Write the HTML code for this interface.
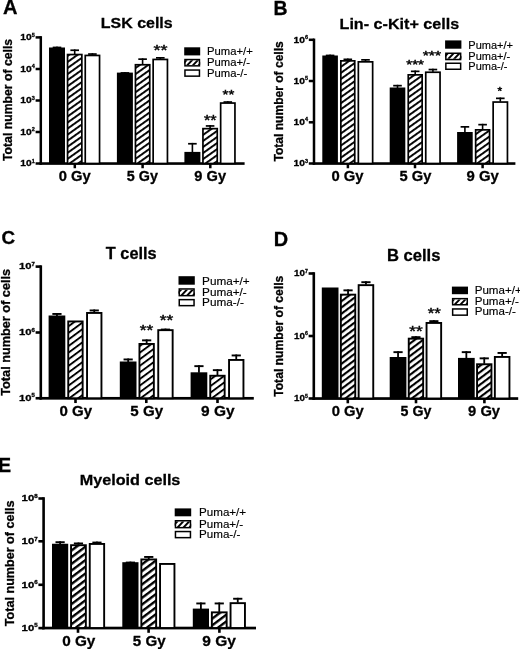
<!DOCTYPE html>
<html><head><meta charset="utf-8"><title>Figure</title>
<style>
html,body{margin:0;padding:0;background:#fff;}
svg{display:block;filter:blur(0.4px);}
text{font-family:"Liberation Sans",sans-serif;fill:#000;}
text[font-weight=bold]{stroke:#000;stroke-width:0.3px;}
</style></head>
<body>
<svg width="520" height="649" viewBox="0 0 520 649">
<defs>
<pattern id="h" patternUnits="userSpaceOnUse" width="10" height="4.93" patternTransform="rotate(-35.5)">
<rect x="0" y="0" width="10" height="4.93" fill="#fff"/>
<rect x="0" y="0" width="10" height="1.9" fill="#000"/>
</pattern>
<pattern id="hC" patternUnits="userSpaceOnUse" width="10" height="5.3" patternTransform="rotate(-36.5)">
<rect x="0" y="0" width="10" height="5.3" fill="#fff"/>
<rect x="0" y="0" width="10" height="1.9" fill="#000"/>
</pattern>
<pattern id="hD" patternUnits="userSpaceOnUse" width="10" height="5.0" patternTransform="rotate(-37)">
<rect x="0" y="0" width="10" height="5.0" fill="#fff"/>
<rect x="0" y="0" width="10" height="2.15" fill="#000"/>
</pattern>
<pattern id="hE" patternUnits="userSpaceOnUse" width="10" height="5.35" patternTransform="rotate(-37)">
<rect x="0" y="0" width="10" height="5.35" fill="#fff"/>
<rect x="0" y="0" width="10" height="2.35" fill="#000"/>
</pattern>
<pattern id="hl" patternUnits="userSpaceOnUse" width="10" height="4.6" patternTransform="rotate(-45)">
<rect x="0" y="0" width="10" height="4.6" fill="#fff"/>
<rect x="0" y="0" width="10" height="2.4" fill="#000"/>
</pattern>
</defs>
<rect x="0" y="0" width="520" height="649" fill="#fff"/>
<rect x="39.55" y="36.15" width="2.5" height="128.60" fill="#000"/>
<rect x="39.55" y="162.25" width="205.05" height="2.6" fill="#000"/>
<rect x="35.60" y="36.15" width="5.2" height="2.5" fill="#000"/>
<text transform="translate(34.90,40.10) scale(1.05,1)" text-anchor="end" font-size="9.8" font-weight="bold">10<tspan dy="-3.59" dx="0.1" font-size="5.2">5</tspan></text>
<rect x="35.60" y="67.75" width="5.2" height="2.5" fill="#000"/>
<text transform="translate(34.90,71.70) scale(1.05,1)" text-anchor="end" font-size="9.8" font-weight="bold">10<tspan dy="-3.59" dx="0.1" font-size="5.2">4</tspan></text>
<rect x="35.60" y="99.25" width="5.2" height="2.5" fill="#000"/>
<text transform="translate(34.90,103.20) scale(1.05,1)" text-anchor="end" font-size="9.8" font-weight="bold">10<tspan dy="-3.59" dx="0.1" font-size="5.2">3</tspan></text>
<rect x="35.60" y="130.75" width="5.2" height="2.5" fill="#000"/>
<text transform="translate(34.90,134.70) scale(1.05,1)" text-anchor="end" font-size="9.8" font-weight="bold">10<tspan dy="-3.59" dx="0.1" font-size="5.2">2</tspan></text>
<rect x="35.60" y="162.25" width="5.2" height="2.5" fill="#000"/>
<text transform="translate(34.90,166.20) scale(1.05,1)" text-anchor="end" font-size="9.8" font-weight="bold">10<tspan dy="-3.59" dx="0.1" font-size="5.2">1</tspan></text>
<rect x="73.55" y="163.50" width="2.5" height="4.75" fill="#000"/>
<rect x="141.35" y="163.50" width="2.5" height="4.75" fill="#000"/>
<rect x="209.05" y="163.50" width="2.5" height="4.75" fill="#000"/>
<rect x="56.20" y="46.60" width="1.6" height="1.40" fill="#000"/>
<rect x="52.70" y="46.60" width="8.6" height="1.7000000000000002" fill="#000"/>
<rect x="49.00" y="47.50" width="16.00" height="116.00" fill="#000"/>
<rect x="73.90" y="49.40" width="1.6" height="4.80" fill="#000"/>
<rect x="70.40" y="49.40" width="8.6" height="1.7000000000000002" fill="#000"/>
<rect x="67.55" y="54.55" width="14.30" height="108.95" fill="url(#h)" stroke="#000" stroke-width="1.7"/>
<rect x="91.60" y="53.20" width="1.6" height="1.90" fill="#000"/>
<rect x="88.10" y="53.20" width="8.6" height="1.7000000000000002" fill="#000"/>
<rect x="85.25" y="55.45" width="14.30" height="108.05" fill="#fff" stroke="#000" stroke-width="1.7"/>
<rect x="124.10" y="72.10" width="1.6" height="1.00" fill="#000"/>
<rect x="120.60" y="72.10" width="8.6" height="1.7000000000000002" fill="#000"/>
<rect x="116.90" y="72.60" width="16.00" height="90.90" fill="#000"/>
<rect x="141.80" y="58.30" width="1.6" height="6.10" fill="#000"/>
<rect x="138.30" y="58.30" width="8.6" height="1.7000000000000002" fill="#000"/>
<rect x="135.45" y="64.75" width="14.30" height="98.75" fill="url(#h)" stroke="#000" stroke-width="1.7"/>
<rect x="159.50" y="57.00" width="1.6" height="2.10" fill="#000"/>
<rect x="156.00" y="57.00" width="8.6" height="1.7000000000000002" fill="#000"/>
<rect x="153.15" y="59.45" width="14.30" height="104.05" fill="#fff" stroke="#000" stroke-width="1.7"/>
<rect x="191.60" y="142.90" width="1.6" height="9.50" fill="#000"/>
<rect x="188.10" y="142.90" width="8.6" height="1.7000000000000002" fill="#000"/>
<rect x="184.40" y="151.90" width="16.00" height="11.60" fill="#000"/>
<rect x="209.30" y="125.10" width="1.6" height="3.20" fill="#000"/>
<rect x="205.80" y="125.10" width="8.6" height="1.7000000000000002" fill="#000"/>
<rect x="202.95" y="128.65" width="14.30" height="34.85" fill="url(#h)" stroke="#000" stroke-width="1.7"/>
<rect x="227.00" y="101.20" width="1.6" height="1.50" fill="#000"/>
<rect x="223.50" y="101.20" width="8.6" height="1.7000000000000002" fill="#000"/>
<rect x="220.65" y="103.05" width="14.30" height="60.45" fill="#fff" stroke="#000" stroke-width="1.7"/>
<text transform="translate(153.53,55.12) scale(1,0.85)" font-size="18.00" font-weight="normal" stroke="#000" stroke-width="0.5">**</text>
<text transform="translate(203.96,124.73) scale(1,0.85)" font-size="16.13" font-weight="normal" stroke="#000" stroke-width="0.5">**</text>
<text transform="translate(222.57,99.20) scale(1,0.85)" font-size="15.07" font-weight="normal" stroke="#000" stroke-width="0.5">**</text>
<rect x="184.20" y="47.30" width="16.00" height="8.10" fill="#000"/>
<clipPath id="c1"><rect x="184.20" y="58.80" width="16.00" height="7.80"/></clipPath>
<rect x="184.20" y="58.80" width="16.00" height="7.80" fill="#fff"/>
<g clip-path="url(#c1)"><polygon points="180.50,65.10 183.12,65.10 187.68,60.30 185.06,60.30" fill="#000"/><polygon points="186.20,65.10 188.82,65.10 193.38,60.30 190.76,60.30" fill="#000"/><polygon points="191.90,65.10 194.52,65.10 199.08,60.30 196.46,60.30" fill="#000"/><polygon points="197.60,65.10 200.23,65.10 204.79,60.30 202.16,60.30" fill="#000"/><polygon points="203.31,65.10 205.93,65.10 210.49,60.30 207.87,60.30" fill="#000"/></g>
<rect x="184.95" y="59.55" width="14.50" height="6.30" fill="none" stroke="#000" stroke-width="1.5"/>
<rect x="184.95" y="70.05" width="14.50" height="6.10" fill="#fff" stroke="#000" stroke-width="1.5"/>
<text x="207.10" y="55.30" font-size="11.27" stroke="#000" stroke-width="0.15">Puma+/+</text>
<text x="207.10" y="66.30" font-size="11.27" stroke="#000" stroke-width="0.15">Puma+/-</text>
<text x="207.10" y="77.00" font-size="11.27" stroke="#000" stroke-width="0.15">Puma-/-</text>
<text transform="translate(100.86,27.70) scale(1,0.95)" font-size="15.96" font-weight="bold">LSK cells</text>
<text transform="translate(3.00,13.80) scale(1,1.0)" font-size="20.07" font-weight="bold">A</text>
<text transform="translate(12.30,161.02) rotate(-90) scale(1,1.0)" font-size="12.24" font-weight="bold">Total number of cells</text>
<text transform="translate(58.65,180.80) scale(1,1.0)" font-size="14.76" font-weight="bold">0 Gy</text>
<text transform="translate(126.87,180.80) scale(1,1.0)" font-size="14.33" font-weight="bold">5 Gy</text>
<text transform="translate(194.32,180.80) scale(1,1.0)" font-size="14.63" font-weight="bold">9 Gy</text>
<rect x="312.75" y="38.55" width="2.5" height="126.20" fill="#000"/>
<rect x="312.75" y="162.25" width="202.65" height="2.6" fill="#000"/>
<rect x="308.80" y="38.55" width="5.2" height="2.5" fill="#000"/>
<text transform="translate(308.10,42.50) scale(1.05,1)" text-anchor="end" font-size="9.8" font-weight="bold">10<tspan dy="-3.59" dx="0.1" font-size="5.2">6</tspan></text>
<rect x="308.80" y="79.75" width="5.2" height="2.5" fill="#000"/>
<text transform="translate(308.10,83.70) scale(1.05,1)" text-anchor="end" font-size="9.8" font-weight="bold">10<tspan dy="-3.59" dx="0.1" font-size="5.2">5</tspan></text>
<rect x="308.80" y="121.05" width="5.2" height="2.5" fill="#000"/>
<text transform="translate(308.10,125.00) scale(1.05,1)" text-anchor="end" font-size="9.8" font-weight="bold">10<tspan dy="-3.59" dx="0.1" font-size="5.2">4</tspan></text>
<rect x="308.80" y="162.25" width="5.2" height="2.5" fill="#000"/>
<text transform="translate(308.10,166.20) scale(1.05,1)" text-anchor="end" font-size="9.8" font-weight="bold">10<tspan dy="-3.59" dx="0.1" font-size="5.2">3</tspan></text>
<rect x="346.65" y="163.50" width="2.5" height="4.75" fill="#000"/>
<rect x="413.75" y="163.50" width="2.5" height="4.75" fill="#000"/>
<rect x="481.35" y="163.50" width="2.5" height="4.75" fill="#000"/>
<rect x="329.30" y="54.60" width="1.6" height="1.40" fill="#000"/>
<rect x="325.80" y="54.60" width="8.6" height="1.7000000000000002" fill="#000"/>
<rect x="322.30" y="55.50" width="15.60" height="108.00" fill="#000"/>
<rect x="347.00" y="58.50" width="1.6" height="2.00" fill="#000"/>
<rect x="343.50" y="58.50" width="8.6" height="1.7000000000000002" fill="#000"/>
<rect x="340.85" y="60.85" width="13.90" height="102.65" fill="url(#h)" stroke="#000" stroke-width="1.7"/>
<rect x="364.70" y="59.00" width="1.6" height="2.50" fill="#000"/>
<rect x="361.20" y="59.00" width="8.6" height="1.7000000000000002" fill="#000"/>
<rect x="358.35" y="61.85" width="14.30" height="101.65" fill="#fff" stroke="#000" stroke-width="1.7"/>
<rect x="396.70" y="84.80" width="1.6" height="3.20" fill="#000"/>
<rect x="393.20" y="84.80" width="8.6" height="1.7000000000000002" fill="#000"/>
<rect x="389.70" y="87.50" width="15.60" height="76.00" fill="#000"/>
<rect x="414.40" y="70.50" width="1.6" height="4.00" fill="#000"/>
<rect x="410.90" y="70.50" width="8.6" height="1.7000000000000002" fill="#000"/>
<rect x="408.25" y="74.85" width="13.90" height="88.65" fill="url(#h)" stroke="#000" stroke-width="1.7"/>
<rect x="432.10" y="68.70" width="1.6" height="3.20" fill="#000"/>
<rect x="428.60" y="68.70" width="8.6" height="1.7000000000000002" fill="#000"/>
<rect x="425.75" y="72.25" width="14.30" height="91.25" fill="#fff" stroke="#000" stroke-width="1.7"/>
<rect x="464.10" y="126.00" width="1.6" height="6.50" fill="#000"/>
<rect x="460.60" y="126.00" width="8.6" height="1.7000000000000002" fill="#000"/>
<rect x="457.10" y="132.00" width="15.60" height="31.50" fill="#000"/>
<rect x="481.80" y="123.80" width="1.6" height="5.70" fill="#000"/>
<rect x="478.30" y="123.80" width="8.6" height="1.7000000000000002" fill="#000"/>
<rect x="475.65" y="129.85" width="13.90" height="33.65" fill="url(#h)" stroke="#000" stroke-width="1.7"/>
<rect x="499.50" y="97.50" width="1.6" height="4.20" fill="#000"/>
<rect x="496.00" y="97.50" width="8.6" height="1.7000000000000002" fill="#000"/>
<rect x="493.15" y="102.05" width="14.30" height="61.45" fill="#fff" stroke="#000" stroke-width="1.7"/>
<text transform="translate(406.27,69.39) scale(1,0.85)" font-size="15.21" font-weight="normal" stroke="#000" stroke-width="0.5">***</text>
<text transform="translate(422.77,59.84) scale(1,0.85)" font-size="15.65" font-weight="normal" stroke="#000" stroke-width="0.5">***</text>
<text transform="translate(497.42,95.18) scale(1,0.85)" font-size="11.94" font-weight="normal" stroke="#000" stroke-width="0.5">*</text>
<rect x="445.10" y="40.40" width="16.30" height="8.30" fill="#000"/>
<clipPath id="c2"><rect x="445.10" y="52.50" width="16.30" height="7.80"/></clipPath>
<rect x="445.10" y="52.50" width="16.30" height="7.80" fill="#fff"/>
<g clip-path="url(#c2)"><polygon points="441.27,58.80 443.95,58.80 448.51,54.00 445.83,54.00" fill="#000"/><polygon points="447.10,58.80 449.78,58.80 454.34,54.00 451.66,54.00" fill="#000"/><polygon points="452.93,58.80 455.62,58.80 460.18,54.00 457.49,54.00" fill="#000"/><polygon points="458.77,58.80 461.45,58.80 466.01,54.00 463.33,54.00" fill="#000"/><polygon points="464.60,58.80 467.28,58.80 471.84,54.00 469.16,54.00" fill="#000"/></g>
<rect x="445.85" y="53.25" width="14.80" height="6.30" fill="none" stroke="#000" stroke-width="1.5"/>
<rect x="445.85" y="63.25" width="14.80" height="6.00" fill="#fff" stroke="#000" stroke-width="1.5"/>
<text x="468.32" y="48.60" font-size="11.02" stroke="#000" stroke-width="0.15">Puma+/+</text>
<text x="468.32" y="59.50" font-size="11.02" stroke="#000" stroke-width="0.15">Puma+/-</text>
<text x="468.32" y="69.80" font-size="11.02" stroke="#000" stroke-width="0.15">Puma-/-</text>
<text transform="translate(339.55,29.40) scale(1,0.94)" font-size="16.13" font-weight="bold">Lin- c-Kit+ cells</text>
<text transform="translate(273.44,14.70) scale(1,1.0)" font-size="19.43" font-weight="bold">B</text>
<text transform="translate(282.90,161.52) rotate(-90) scale(1,1.0)" font-size="12.06" font-weight="bold">Total number of cells</text>
<text transform="translate(331.44,180.90) scale(1,1.0)" font-size="14.81" font-weight="bold">0 Gy</text>
<text transform="translate(399.56,180.90) scale(1,1.0)" font-size="14.66" font-weight="bold">5 Gy</text>
<text transform="translate(466.52,180.90) scale(1,1.0)" font-size="14.91" font-weight="bold">9 Gy</text>
<rect x="39.50" y="265.30" width="2.6" height="134.25" fill="#000"/>
<rect x="39.50" y="396.95" width="214.30" height="2.7" fill="#000"/>
<rect x="35.60" y="265.30" width="5.2" height="2.6" fill="#000"/>
<text transform="translate(34.90,269.30) scale(1.15,1)" text-anchor="end" font-size="9.8" font-weight="bold">10<tspan dy="-3.59" dx="0.1" font-size="5.2">7</tspan></text>
<rect x="35.60" y="331.20" width="5.2" height="2.6" fill="#000"/>
<text transform="translate(34.90,335.20) scale(1.15,1)" text-anchor="end" font-size="9.8" font-weight="bold">10<tspan dy="-3.59" dx="0.1" font-size="5.2">6</tspan></text>
<rect x="35.60" y="396.95" width="5.2" height="2.6" fill="#000"/>
<text transform="translate(34.90,400.95) scale(1.15,1)" text-anchor="end" font-size="9.8" font-weight="bold">10<tspan dy="-3.59" dx="0.1" font-size="5.2">5</tspan></text>
<rect x="74.20" y="398.25" width="2.6" height="4.80" fill="#000"/>
<rect x="145.00" y="398.25" width="2.6" height="4.80" fill="#000"/>
<rect x="216.20" y="398.25" width="2.6" height="4.80" fill="#000"/>
<rect x="56.05" y="313.00" width="1.8" height="3.00" fill="#000"/>
<rect x="52.35" y="313.00" width="9.2" height="1.9000000000000001" fill="#000"/>
<rect x="48.60" y="315.50" width="16.70" height="82.75" fill="#000"/>
<rect x="68.25" y="321.45" width="14.40" height="76.80" fill="url(#hC)" stroke="#000" stroke-width="1.9"/>
<rect x="93.35" y="309.50" width="1.8" height="3.00" fill="#000"/>
<rect x="89.65" y="309.50" width="9.2" height="1.9000000000000001" fill="#000"/>
<rect x="87.05" y="312.95" width="14.40" height="85.30" fill="#fff" stroke="#000" stroke-width="1.9"/>
<rect x="127.25" y="358.50" width="1.8" height="3.50" fill="#000"/>
<rect x="123.55" y="358.50" width="9.2" height="1.9000000000000001" fill="#000"/>
<rect x="119.80" y="361.50" width="16.70" height="36.75" fill="#000"/>
<rect x="145.75" y="339.40" width="1.8" height="4.10" fill="#000"/>
<rect x="142.05" y="339.40" width="9.2" height="1.9000000000000001" fill="#000"/>
<rect x="139.45" y="343.95" width="14.40" height="54.30" fill="url(#hC)" stroke="#000" stroke-width="1.9"/>
<rect x="164.55" y="328.60" width="1.8" height="1.10" fill="#000"/>
<rect x="160.85" y="328.60" width="9.2" height="1.9000000000000001" fill="#000"/>
<rect x="158.25" y="330.15" width="14.40" height="68.10" fill="#fff" stroke="#000" stroke-width="1.9"/>
<rect x="198.05" y="365.20" width="1.8" height="7.60" fill="#000"/>
<rect x="194.35" y="365.20" width="9.2" height="1.9000000000000001" fill="#000"/>
<rect x="190.60" y="372.30" width="16.70" height="25.95" fill="#000"/>
<rect x="216.55" y="369.20" width="1.8" height="6.10" fill="#000"/>
<rect x="212.85" y="369.20" width="9.2" height="1.9000000000000001" fill="#000"/>
<rect x="210.25" y="375.75" width="14.40" height="22.50" fill="url(#hC)" stroke="#000" stroke-width="1.9"/>
<rect x="235.35" y="354.50" width="1.8" height="5.00" fill="#000"/>
<rect x="231.65" y="354.50" width="9.2" height="1.9000000000000001" fill="#000"/>
<rect x="229.05" y="359.95" width="14.40" height="38.30" fill="#fff" stroke="#000" stroke-width="1.9"/>
<text transform="translate(139.74,335.33) scale(1,0.85)" font-size="17.33" font-weight="normal" stroke="#000" stroke-width="0.5">**</text>
<text transform="translate(159.74,325.33) scale(1,0.85)" font-size="17.33" font-weight="normal" stroke="#000" stroke-width="0.5">**</text>
<rect x="178.50" y="276.20" width="16.30" height="8.50" fill="#000"/>
<clipPath id="c3"><rect x="178.50" y="288.20" width="16.30" height="8.20"/></clipPath>
<rect x="178.50" y="288.20" width="16.30" height="8.20" fill="#fff"/>
<g clip-path="url(#c3)"><polygon points="174.67,294.90 177.35,294.90 182.29,289.70 179.61,289.70" fill="#000"/><polygon points="180.50,294.90 183.18,294.90 188.12,289.70 185.44,289.70" fill="#000"/><polygon points="186.33,294.90 189.02,294.90 193.96,289.70 191.27,289.70" fill="#000"/><polygon points="192.17,294.90 194.85,294.90 199.79,289.70 197.11,289.70" fill="#000"/><polygon points="198.00,294.90 200.68,294.90 205.62,289.70 202.94,289.70" fill="#000"/></g>
<rect x="179.25" y="288.95" width="14.80" height="6.70" fill="none" stroke="#000" stroke-width="1.5"/>
<rect x="179.25" y="299.65" width="14.80" height="6.00" fill="#fff" stroke="#000" stroke-width="1.5"/>
<text x="202.06" y="284.50" font-size="11.76" stroke="#000" stroke-width="0.15">Puma+/+</text>
<text x="202.06" y="296.00" font-size="11.76" stroke="#000" stroke-width="0.15">Puma+/-</text>
<text x="202.06" y="306.30" font-size="11.76" stroke="#000" stroke-width="0.15">Puma-/-</text>
<text transform="translate(105.84,259.00) scale(1,1.0)" font-size="16.31" font-weight="bold">T cells</text>
<text transform="translate(1.45,243.60) scale(1,1.0)" font-size="18.78" font-weight="bold">C</text>
<text transform="translate(10.40,395.73) rotate(-90) scale(1,1.0)" font-size="12.71" font-weight="bold">Total number of cells</text>
<text transform="translate(59.44,415.50) scale(1,1.0)" font-size="15.04" font-weight="bold">0 Gy</text>
<text transform="translate(130.35,415.50) scale(1,1.0)" font-size="15.08" font-weight="bold">5 Gy</text>
<text transform="translate(201.00,415.50) scale(1,1.0)" font-size="15.47" font-weight="bold">9 Gy</text>
<rect x="312.50" y="272.20" width="2.6" height="127.60" fill="#000"/>
<rect x="312.50" y="397.20" width="205.70" height="2.7" fill="#000"/>
<rect x="308.60" y="272.20" width="5.2" height="2.6" fill="#000"/>
<text transform="translate(307.90,276.20) scale(1.0,1)" text-anchor="end" font-size="9.8" font-weight="bold">10<tspan dy="-3.59" dx="0.1" font-size="5.2">7</tspan></text>
<rect x="308.60" y="334.70" width="5.2" height="2.6" fill="#000"/>
<text transform="translate(307.90,338.70) scale(1.0,1)" text-anchor="end" font-size="9.8" font-weight="bold">10<tspan dy="-3.59" dx="0.1" font-size="5.2">6</tspan></text>
<rect x="308.60" y="397.20" width="5.2" height="2.6" fill="#000"/>
<text transform="translate(307.90,401.20) scale(1.0,1)" text-anchor="end" font-size="9.8" font-weight="bold">10<tspan dy="-3.59" dx="0.1" font-size="5.2">5</tspan></text>
<rect x="346.50" y="398.50" width="2.6" height="4.80" fill="#000"/>
<rect x="414.70" y="398.50" width="2.6" height="4.80" fill="#000"/>
<rect x="483.10" y="398.50" width="2.6" height="4.80" fill="#000"/>
<rect x="321.80" y="287.50" width="16.70" height="111.00" fill="#000"/>
<rect x="347.15" y="289.40" width="1.8" height="4.80" fill="#000"/>
<rect x="343.45" y="289.40" width="9.2" height="1.9000000000000001" fill="#000"/>
<rect x="340.85" y="294.65" width="14.40" height="103.85" fill="url(#hD)" stroke="#000" stroke-width="1.9"/>
<rect x="365.05" y="281.25" width="1.8" height="3.45" fill="#000"/>
<rect x="361.35" y="281.25" width="9.2" height="1.9000000000000001" fill="#000"/>
<rect x="358.65" y="285.15" width="14.60" height="113.35" fill="#fff" stroke="#000" stroke-width="1.9"/>
<rect x="397.15" y="351.20" width="1.8" height="6.30" fill="#000"/>
<rect x="393.45" y="351.20" width="9.2" height="1.9000000000000001" fill="#000"/>
<rect x="389.70" y="357.00" width="16.70" height="41.50" fill="#000"/>
<rect x="415.05" y="336.20" width="1.8" height="2.00" fill="#000"/>
<rect x="411.35" y="336.20" width="9.2" height="1.9000000000000001" fill="#000"/>
<rect x="408.75" y="338.65" width="14.40" height="59.85" fill="url(#hD)" stroke="#000" stroke-width="1.9"/>
<rect x="432.95" y="320.20" width="1.8" height="2.30" fill="#000"/>
<rect x="429.25" y="320.20" width="9.2" height="1.9000000000000001" fill="#000"/>
<rect x="426.55" y="322.95" width="14.60" height="75.55" fill="#fff" stroke="#000" stroke-width="1.9"/>
<rect x="465.45" y="351.20" width="1.8" height="7.20" fill="#000"/>
<rect x="461.75" y="351.20" width="9.2" height="1.9000000000000001" fill="#000"/>
<rect x="458.00" y="357.90" width="16.70" height="40.60" fill="#000"/>
<rect x="483.35" y="357.40" width="1.8" height="6.40" fill="#000"/>
<rect x="479.65" y="357.40" width="9.2" height="1.9000000000000001" fill="#000"/>
<rect x="477.05" y="364.25" width="14.40" height="34.25" fill="url(#hD)" stroke="#000" stroke-width="1.9"/>
<rect x="501.25" y="352.00" width="1.8" height="4.50" fill="#000"/>
<rect x="497.55" y="352.00" width="9.2" height="1.9000000000000001" fill="#000"/>
<rect x="494.85" y="356.95" width="14.60" height="41.55" fill="#fff" stroke="#000" stroke-width="1.9"/>
<text transform="translate(409.34,335.65) scale(1,0.85)" font-size="17.20" font-weight="normal" stroke="#000" stroke-width="0.5">**</text>
<text transform="translate(427.75,317.82) scale(1,0.85)" font-size="16.80" font-weight="normal" stroke="#000" stroke-width="0.5">**</text>
<rect x="451.90" y="286.60" width="16.10" height="7.60" fill="#000"/>
<clipPath id="c4"><rect x="451.90" y="297.90" width="16.10" height="7.60"/></clipPath>
<rect x="451.90" y="297.90" width="16.10" height="7.60" fill="#fff"/>
<g clip-path="url(#c4)"><polygon points="448.15,304.00 450.80,304.00 455.17,299.40 452.52,299.40" fill="#000"/><polygon points="453.90,304.00 456.54,304.00 460.91,299.40 458.27,299.40" fill="#000"/><polygon points="459.65,304.00 462.29,304.00 466.66,299.40 464.02,299.40" fill="#000"/><polygon points="465.39,304.00 468.03,304.00 472.40,299.40 469.76,299.40" fill="#000"/><polygon points="471.14,304.00 473.78,304.00 478.15,299.40 475.51,299.40" fill="#000"/></g>
<rect x="452.65" y="298.65" width="14.60" height="6.10" fill="none" stroke="#000" stroke-width="1.5"/>
<rect x="452.65" y="308.95" width="14.60" height="6.20" fill="#fff" stroke="#000" stroke-width="1.5"/>
<text x="474.67" y="293.90" font-size="11.58" stroke="#000" stroke-width="0.15">Puma+/+</text>
<text x="474.67" y="305.00" font-size="11.58" stroke="#000" stroke-width="0.15">Puma+/-</text>
<text x="474.67" y="315.30" font-size="11.58" stroke="#000" stroke-width="0.15">Puma-/-</text>
<text transform="translate(386.92,261.00) scale(1,1.0)" font-size="16.60" font-weight="bold">B cells</text>
<text transform="translate(273.71,245.80) scale(1,1.0)" font-size="19.92" font-weight="bold">D</text>
<text transform="translate(282.70,396.82) rotate(-90) scale(1,1.08)" font-size="12.15" font-weight="bold">Total number of cells</text>
<text transform="translate(331.74,416.40) scale(1,1.0)" font-size="14.81" font-weight="bold">0 Gy</text>
<text transform="translate(400.57,416.40) scale(1,1.0)" font-size="14.19" font-weight="bold">5 Gy</text>
<text transform="translate(468.12,416.40) scale(1,1.0)" font-size="14.72" font-weight="bold">9 Gy</text>
<rect x="42.30" y="497.20" width="2.6" height="132.10" fill="#000"/>
<rect x="42.30" y="626.70" width="213.70" height="2.7" fill="#000"/>
<rect x="38.40" y="497.20" width="5.2" height="2.6" fill="#000"/>
<text transform="translate(37.70,501.20) scale(1.18,1)" text-anchor="end" font-size="9.6" font-weight="bold">10<tspan dy="-3.45" dx="0.1" font-size="5.2">8</tspan></text>
<rect x="38.40" y="540.00" width="5.2" height="2.6" fill="#000"/>
<text transform="translate(37.70,544.00) scale(1.18,1)" text-anchor="end" font-size="9.6" font-weight="bold">10<tspan dy="-3.45" dx="0.1" font-size="5.2">7</tspan></text>
<rect x="38.40" y="583.50" width="5.2" height="2.6" fill="#000"/>
<text transform="translate(37.70,587.50) scale(1.18,1)" text-anchor="end" font-size="9.6" font-weight="bold">10<tspan dy="-3.45" dx="0.1" font-size="5.2">6</tspan></text>
<rect x="38.40" y="626.80" width="5.2" height="2.6" fill="#000"/>
<text transform="translate(37.70,630.80) scale(1.18,1)" text-anchor="end" font-size="9.6" font-weight="bold">10<tspan dy="-3.45" dx="0.1" font-size="5.2">5</tspan></text>
<rect x="76.70" y="628.00" width="2.6" height="4.80" fill="#000"/>
<rect x="147.30" y="628.00" width="2.6" height="4.80" fill="#000"/>
<rect x="218.10" y="628.00" width="2.6" height="4.80" fill="#000"/>
<rect x="59.20" y="541.25" width="1.8" height="3.00" fill="#000"/>
<rect x="55.50" y="541.25" width="9.2" height="1.9000000000000001" fill="#000"/>
<rect x="52.00" y="543.75" width="16.20" height="84.25" fill="#000"/>
<rect x="77.55" y="542.50" width="1.8" height="2.25" fill="#000"/>
<rect x="73.85" y="542.50" width="9.2" height="1.9000000000000001" fill="#000"/>
<rect x="71.05" y="545.20" width="14.80" height="82.80" fill="url(#hE)" stroke="#000" stroke-width="1.9"/>
<rect x="96.05" y="541.60" width="1.8" height="1.90" fill="#000"/>
<rect x="92.35" y="541.60" width="9.2" height="1.9000000000000001" fill="#000"/>
<rect x="89.75" y="543.95" width="14.40" height="84.05" fill="#fff" stroke="#000" stroke-width="1.9"/>
<rect x="129.50" y="561.60" width="1.8" height="1.10" fill="#000"/>
<rect x="125.80" y="561.60" width="9.2" height="1.9000000000000001" fill="#000"/>
<rect x="122.30" y="562.20" width="16.20" height="65.80" fill="#000"/>
<rect x="147.85" y="556.00" width="1.8" height="3.00" fill="#000"/>
<rect x="144.15" y="556.00" width="9.2" height="1.9000000000000001" fill="#000"/>
<rect x="141.35" y="559.45" width="14.80" height="68.55" fill="url(#hE)" stroke="#000" stroke-width="1.9"/>
<rect x="160.05" y="563.95" width="14.40" height="64.05" fill="#fff" stroke="#000" stroke-width="1.9"/>
<rect x="200.00" y="602.50" width="1.8" height="6.60" fill="#000"/>
<rect x="196.30" y="602.50" width="9.2" height="1.9000000000000001" fill="#000"/>
<rect x="192.80" y="608.60" width="16.20" height="19.40" fill="#000"/>
<rect x="218.35" y="602.50" width="1.8" height="9.40" fill="#000"/>
<rect x="214.65" y="602.50" width="9.2" height="1.9000000000000001" fill="#000"/>
<rect x="211.85" y="612.35" width="14.80" height="15.65" fill="url(#hE)" stroke="#000" stroke-width="1.9"/>
<rect x="236.85" y="597.80" width="1.8" height="4.90" fill="#000"/>
<rect x="233.15" y="597.80" width="9.2" height="1.9000000000000001" fill="#000"/>
<rect x="230.55" y="603.15" width="14.40" height="24.85" fill="#fff" stroke="#000" stroke-width="1.9"/>
<rect x="174.70" y="508.40" width="16.50" height="7.90" fill="#000"/>
<clipPath id="c5"><rect x="174.70" y="520.00" width="16.50" height="8.40"/></clipPath>
<rect x="174.70" y="520.00" width="16.50" height="8.40" fill="#fff"/>
<g clip-path="url(#c5)"><polygon points="170.78,526.90 173.50,526.90 178.63,521.50 175.91,521.50" fill="#000"/><polygon points="176.70,526.90 179.42,526.90 184.55,521.50 181.83,521.50" fill="#000"/><polygon points="182.62,526.90 185.34,526.90 190.47,521.50 187.75,521.50" fill="#000"/><polygon points="188.54,526.90 191.27,526.90 196.40,521.50 193.67,521.50" fill="#000"/><polygon points="194.46,526.90 197.19,526.90 202.32,521.50 199.59,521.50" fill="#000"/></g>
<rect x="175.45" y="520.75" width="15.00" height="6.90" fill="none" stroke="#000" stroke-width="1.5"/>
<rect x="175.45" y="531.55" width="15.00" height="6.10" fill="#fff" stroke="#000" stroke-width="1.5"/>
<text x="199.07" y="516.30" font-size="11.60" stroke="#000" stroke-width="0.15">Puma+/+</text>
<text x="199.07" y="528.10" font-size="11.60" stroke="#000" stroke-width="0.15">Puma+/-</text>
<text x="199.07" y="538.40" font-size="11.60" stroke="#000" stroke-width="0.15">Puma-/-</text>
<text transform="translate(79.75,485.00) scale(1,0.96)" font-size="16.18" font-weight="bold">Myeloid cells</text>
<text transform="translate(-1.98,471.50) scale(1,1.0)" font-size="19.65" font-weight="bold">E</text>
<text transform="translate(13.75,626.13) rotate(-90) scale(1,1.0)" font-size="12.58" font-weight="bold">Total number of cells</text>
<text transform="translate(62.13,646.20) scale(1,1.0)" font-size="15.32" font-weight="bold">0 Gy</text>
<text transform="translate(132.85,646.20) scale(1,1.0)" font-size="15.13" font-weight="bold">5 Gy</text>
<text transform="translate(202.20,646.20) scale(1,1.0)" font-size="15.52" font-weight="bold">9 Gy</text>
</svg>
</body></html>
